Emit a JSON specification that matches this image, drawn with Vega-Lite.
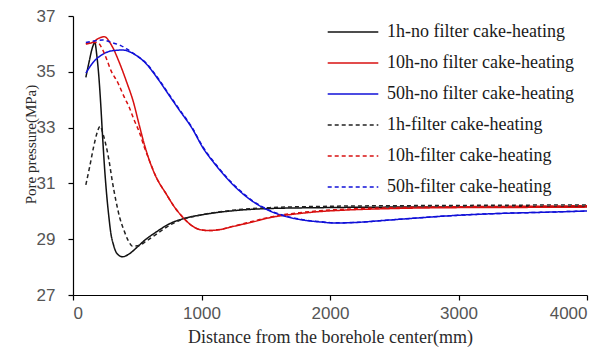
{
  "$schema": "https://vega.github.io/schema/vega-lite/v6.json",
  "width": 514,
  "height": 279,
  "autosize": "none",
  "padding": {"left": 73, "top": 16, "right": 26, "bottom": 53},
  "background": "white",
  "config": {
    "view": {"stroke": null},
    "axis": {
      "grid": false,
      "domainColor": "#000000",
      "domainWidth": 1.2,
      "tickColor": "#000000",
      "tickWidth": 1.2,
      "tickSize": 5,
      "labelFont": "Liberation Sans Narrow, Liberation Sans",
      "labelFontSize": 17,
      "labelColor": "#555555",
      "titleFont": "Liberation Serif",
      "titleFontSize": 18,
      "titleFontWeight": "normal",
      "titleColor": "#2a2a2a"
    },
    "legend": {
      "labelFont": "Liberation Serif",
      "labelFontSize": 18,
      "labelColor": "#1a1a1a",
      "labelLimit": 400
    }
  },
  "data": {
    "values": [
      {"s": "1h-no filter cake-heating", "d": 100, "p": 34.8},
      {"s": "1h-no filter cake-heating", "d": 125, "p": 35.35},
      {"s": "1h-no filter cake-heating", "d": 150, "p": 35.85},
      {"s": "1h-no filter cake-heating", "d": 170, "p": 36.05},
      {"s": "1h-no filter cake-heating", "d": 185, "p": 35.6},
      {"s": "1h-no filter cake-heating", "d": 200, "p": 34.9},
      {"s": "1h-no filter cake-heating", "d": 215, "p": 33.9},
      {"s": "1h-no filter cake-heating", "d": 230, "p": 32.7},
      {"s": "1h-no filter cake-heating", "d": 245, "p": 31.6},
      {"s": "1h-no filter cake-heating", "d": 260, "p": 30.7},
      {"s": "1h-no filter cake-heating", "d": 278, "p": 29.85},
      {"s": "1h-no filter cake-heating", "d": 295, "p": 29.2},
      {"s": "1h-no filter cake-heating", "d": 315, "p": 28.8},
      {"s": "1h-no filter cake-heating", "d": 340, "p": 28.5},
      {"s": "1h-no filter cake-heating", "d": 385, "p": 28.37},
      {"s": "1h-no filter cake-heating", "d": 440, "p": 28.48},
      {"s": "1h-no filter cake-heating", "d": 500, "p": 28.72},
      {"s": "1h-no filter cake-heating", "d": 560, "p": 28.97},
      {"s": "1h-no filter cake-heating", "d": 645, "p": 29.25},
      {"s": "1h-no filter cake-heating", "d": 750, "p": 29.55},
      {"s": "1h-no filter cake-heating", "d": 880, "p": 29.76},
      {"s": "1h-no filter cake-heating", "d": 1010, "p": 29.88},
      {"s": "1h-no filter cake-heating", "d": 1270, "p": 30.03},
      {"s": "1h-no filter cake-heating", "d": 1530, "p": 30.1},
      {"s": "1h-no filter cake-heating", "d": 1920, "p": 30.13},
      {"s": "1h-no filter cake-heating", "d": 2500, "p": 30.15},
      {"s": "1h-no filter cake-heating", "d": 3000, "p": 30.15},
      {"s": "1h-no filter cake-heating", "d": 3500, "p": 30.16},
      {"s": "1h-no filter cake-heating", "d": 4000, "p": 30.17},

      {"s": "10h-no filter cake-heating", "d": 100, "p": 36.0},
      {"s": "10h-no filter cake-heating", "d": 150, "p": 36.05},
      {"s": "10h-no filter cake-heating", "d": 200, "p": 36.2},
      {"s": "10h-no filter cake-heating", "d": 242, "p": 36.26},
      {"s": "10h-no filter cake-heating", "d": 300, "p": 35.95},
      {"s": "10h-no filter cake-heating", "d": 359, "p": 35.35},
      {"s": "10h-no filter cake-heating", "d": 420, "p": 34.6},
      {"s": "10h-no filter cake-heating", "d": 468, "p": 33.95},
      {"s": "10h-no filter cake-heating", "d": 515, "p": 33.1},
      {"s": "10h-no filter cake-heating", "d": 555, "p": 32.4},
      {"s": "10h-no filter cake-heating", "d": 593, "p": 31.84},
      {"s": "10h-no filter cake-heating", "d": 650, "p": 31.2},
      {"s": "10h-no filter cake-heating", "d": 723, "p": 30.64},
      {"s": "10h-no filter cake-heating", "d": 790, "p": 30.15},
      {"s": "10h-no filter cake-heating", "d": 852, "p": 29.8},
      {"s": "10h-no filter cake-heating", "d": 920, "p": 29.5},
      {"s": "10h-no filter cake-heating", "d": 982, "p": 29.35},
      {"s": "10h-no filter cake-heating", "d": 1050, "p": 29.31},
      {"s": "10h-no filter cake-heating", "d": 1150, "p": 29.35},
      {"s": "10h-no filter cake-heating", "d": 1241, "p": 29.45},
      {"s": "10h-no filter cake-heating", "d": 1400, "p": 29.62},
      {"s": "10h-no filter cake-heating", "d": 1530, "p": 29.77},
      {"s": "10h-no filter cake-heating", "d": 1762, "p": 29.92},
      {"s": "10h-no filter cake-heating", "d": 1920, "p": 29.99},
      {"s": "10h-no filter cake-heating", "d": 2150, "p": 30.05},
      {"s": "10h-no filter cake-heating", "d": 2500, "p": 30.1},
      {"s": "10h-no filter cake-heating", "d": 2930, "p": 30.13},
      {"s": "10h-no filter cake-heating", "d": 3500, "p": 30.14},
      {"s": "10h-no filter cake-heating", "d": 4000, "p": 30.15},

      {"s": "50h-no filter cake-heating", "d": 100, "p": 34.95},
      {"s": "50h-no filter cake-heating", "d": 150, "p": 35.3},
      {"s": "50h-no filter cake-heating", "d": 229, "p": 35.62},
      {"s": "50h-no filter cake-heating", "d": 300, "p": 35.75},
      {"s": "50h-no filter cake-heating", "d": 385, "p": 35.78},
      {"s": "50h-no filter cake-heating", "d": 470, "p": 35.65},
      {"s": "50h-no filter cake-heating", "d": 567, "p": 35.3},
      {"s": "50h-no filter cake-heating", "d": 660, "p": 34.75},
      {"s": "50h-no filter cake-heating", "d": 749, "p": 34.15},
      {"s": "50h-no filter cake-heating", "d": 827, "p": 33.63},
      {"s": "50h-no filter cake-heating", "d": 930, "p": 32.95},
      {"s": "50h-no filter cake-heating", "d": 1008, "p": 32.3},
      {"s": "50h-no filter cake-heating", "d": 1112, "p": 31.65},
      {"s": "50h-no filter cake-heating", "d": 1268, "p": 30.85},
      {"s": "50h-no filter cake-heating", "d": 1400, "p": 30.35},
      {"s": "50h-no filter cake-heating", "d": 1528, "p": 30.02},
      {"s": "50h-no filter cake-heating", "d": 1650, "p": 29.82},
      {"s": "50h-no filter cake-heating", "d": 1788, "p": 29.69},
      {"s": "50h-no filter cake-heating", "d": 1918, "p": 29.62},
      {"s": "50h-no filter cake-heating", "d": 2048, "p": 29.58},
      {"s": "50h-no filter cake-heating", "d": 2200, "p": 29.6},
      {"s": "50h-no filter cake-heating", "d": 2412, "p": 29.67},
      {"s": "50h-no filter cake-heating", "d": 2650, "p": 29.75},
      {"s": "50h-no filter cake-heating", "d": 2932, "p": 29.84},
      {"s": "50h-no filter cake-heating", "d": 3300, "p": 29.92},
      {"s": "50h-no filter cake-heating", "d": 3700, "p": 29.97},
      {"s": "50h-no filter cake-heating", "d": 4000, "p": 30.01},

      {"s": "1h-filter cake-heating", "d": 100, "p": 30.95},
      {"s": "1h-filter cake-heating", "d": 130, "p": 31.6},
      {"s": "1h-filter cake-heating", "d": 160, "p": 32.3},
      {"s": "1h-filter cake-heating", "d": 190, "p": 32.85},
      {"s": "1h-filter cake-heating", "d": 211, "p": 33.05},
      {"s": "1h-filter cake-heating", "d": 235, "p": 32.75},
      {"s": "1h-filter cake-heating", "d": 260, "p": 32.3},
      {"s": "1h-filter cake-heating", "d": 281, "p": 31.8},
      {"s": "1h-filter cake-heating", "d": 305, "p": 31.1},
      {"s": "1h-filter cake-heating", "d": 333, "p": 30.4},
      {"s": "1h-filter cake-heating", "d": 365, "p": 29.75},
      {"s": "1h-filter cake-heating", "d": 398, "p": 29.3},
      {"s": "1h-filter cake-heating", "d": 430, "p": 28.95},
      {"s": "1h-filter cake-heating", "d": 463, "p": 28.75},
      {"s": "1h-filter cake-heating", "d": 520, "p": 28.78},
      {"s": "1h-filter cake-heating", "d": 566, "p": 28.92},
      {"s": "1h-filter cake-heating", "d": 630, "p": 29.12},
      {"s": "1h-filter cake-heating", "d": 696, "p": 29.33},
      {"s": "1h-filter cake-heating", "d": 760, "p": 29.52},
      {"s": "1h-filter cake-heating", "d": 827, "p": 29.67},
      {"s": "1h-filter cake-heating", "d": 1000, "p": 29.87},
      {"s": "1h-filter cake-heating", "d": 1270, "p": 30.05},
      {"s": "1h-filter cake-heating", "d": 1530, "p": 30.13},
      {"s": "1h-filter cake-heating", "d": 2000, "p": 30.18},
      {"s": "1h-filter cake-heating", "d": 2500, "p": 30.2},
      {"s": "1h-filter cake-heating", "d": 3000, "p": 30.21},
      {"s": "1h-filter cake-heating", "d": 3500, "p": 30.22},
      {"s": "1h-filter cake-heating", "d": 4000, "p": 30.23},

      {"s": "10h-filter cake-heating", "d": 100, "p": 36.0},
      {"s": "10h-filter cake-heating", "d": 150, "p": 36.05},
      {"s": "10h-filter cake-heating", "d": 190, "p": 36.05},
      {"s": "10h-filter cake-heating", "d": 230, "p": 35.8},
      {"s": "10h-filter cake-heating", "d": 262, "p": 35.45},
      {"s": "10h-filter cake-heating", "d": 294, "p": 35.06},
      {"s": "10h-filter cake-heating", "d": 350, "p": 34.6},
      {"s": "10h-filter cake-heating", "d": 398, "p": 34.1},
      {"s": "10h-filter cake-heating", "d": 440, "p": 33.7},
      {"s": "10h-filter cake-heating", "d": 476, "p": 33.27},
      {"s": "10h-filter cake-heating", "d": 515, "p": 32.85},
      {"s": "10h-filter cake-heating", "d": 555, "p": 32.3},
      {"s": "10h-filter cake-heating", "d": 593, "p": 31.84},
      {"s": "10h-filter cake-heating", "d": 650, "p": 31.2},
      {"s": "10h-filter cake-heating", "d": 723, "p": 30.64},
      {"s": "10h-filter cake-heating", "d": 790, "p": 30.15},
      {"s": "10h-filter cake-heating", "d": 852, "p": 29.8},
      {"s": "10h-filter cake-heating", "d": 920, "p": 29.5},
      {"s": "10h-filter cake-heating", "d": 982, "p": 29.35},
      {"s": "10h-filter cake-heating", "d": 1050, "p": 29.31},
      {"s": "10h-filter cake-heating", "d": 1150, "p": 29.35},
      {"s": "10h-filter cake-heating", "d": 1241, "p": 29.46},
      {"s": "10h-filter cake-heating", "d": 1400, "p": 29.64},
      {"s": "10h-filter cake-heating", "d": 1530, "p": 29.79},
      {"s": "10h-filter cake-heating", "d": 1762, "p": 29.95},
      {"s": "10h-filter cake-heating", "d": 1920, "p": 30.02},
      {"s": "10h-filter cake-heating", "d": 2150, "p": 30.08},
      {"s": "10h-filter cake-heating", "d": 2500, "p": 30.13},
      {"s": "10h-filter cake-heating", "d": 2930, "p": 30.16},
      {"s": "10h-filter cake-heating", "d": 3500, "p": 30.18},
      {"s": "10h-filter cake-heating", "d": 4000, "p": 30.2},

      {"s": "50h-filter cake-heating", "d": 100, "p": 36.05},
      {"s": "50h-filter cake-heating", "d": 160, "p": 36.1},
      {"s": "50h-filter cake-heating", "d": 229, "p": 36.14},
      {"s": "50h-filter cake-heating", "d": 300, "p": 36.05},
      {"s": "50h-filter cake-heating", "d": 372, "p": 35.94},
      {"s": "50h-filter cake-heating", "d": 424, "p": 35.8},
      {"s": "50h-filter cake-heating", "d": 470, "p": 35.66},
      {"s": "50h-filter cake-heating", "d": 567, "p": 35.32},
      {"s": "50h-filter cake-heating", "d": 660, "p": 34.78},
      {"s": "50h-filter cake-heating", "d": 749, "p": 34.18},
      {"s": "50h-filter cake-heating", "d": 827, "p": 33.66},
      {"s": "50h-filter cake-heating", "d": 930, "p": 32.98},
      {"s": "50h-filter cake-heating", "d": 1008, "p": 32.33},
      {"s": "50h-filter cake-heating", "d": 1112, "p": 31.68},
      {"s": "50h-filter cake-heating", "d": 1268, "p": 30.88},
      {"s": "50h-filter cake-heating", "d": 1400, "p": 30.37},
      {"s": "50h-filter cake-heating", "d": 1528, "p": 30.04},
      {"s": "50h-filter cake-heating", "d": 1650, "p": 29.84},
      {"s": "50h-filter cake-heating", "d": 1788, "p": 29.7},
      {"s": "50h-filter cake-heating", "d": 1918, "p": 29.63},
      {"s": "50h-filter cake-heating", "d": 2048, "p": 29.59},
      {"s": "50h-filter cake-heating", "d": 2200, "p": 29.6},
      {"s": "50h-filter cake-heating", "d": 2412, "p": 29.67},
      {"s": "50h-filter cake-heating", "d": 2650, "p": 29.75},
      {"s": "50h-filter cake-heating", "d": 2932, "p": 29.84},
      {"s": "50h-filter cake-heating", "d": 3300, "p": 29.92},
      {"s": "50h-filter cake-heating", "d": 3700, "p": 29.97},
      {"s": "50h-filter cake-heating", "d": 4000, "p": 30.01}
    ]
  },
  "mark": {"type": "line", "interpolate": "monotone", "strokeWidth": 1.5},
  "encoding": {
    "x": {
      "field": "d",
      "type": "quantitative",
      "scale": {"domain": [0, 4000], "nice": false, "zero": false},
      "axis": {
        "values": [0, 1000, 2000, 3000, 4000],
        "format": "d",
        "title": "Distance from the borehole center(mm)",
        "labelPadding": 5,
        "titleAnchor": "middle",
        "titleBaseline": "top",
        "titleY": 33
      }
    },
    "y": {
      "field": "p",
      "type": "quantitative",
      "scale": {"domain": [27, 37], "nice": false, "zero": false},
      "axis": {
        "values": [27, 29, 31, 33, 35, 37],
        "title": "Pore pressure(MPa)",
        "labelPadding": 13,
        "titleFontSize": 15,
        "titleAngle": -90,
        "titleAlign": "center",
        "titleBaseline": "middle",
        "titleX": -43,
        "titleY": 128
      }
    },
    "color": {
      "field": "s",
      "type": "nominal",
      "sort": null,
      "scale": {
        "domain": [
          "1h-no filter cake-heating",
          "10h-no filter cake-heating",
          "50h-no filter cake-heating",
          "1h-filter cake-heating",
          "10h-filter cake-heating",
          "50h-filter cake-heating"
        ],
        "range": ["#111111", "#d81010", "#1010d8", "#222222", "#d81010", "#1010d8"]
      },
      "legend": {
        "title": null,
        "orient": "none",
        "legendX": 263,
        "legendY": -1,
        "padding": 0,
        "symbolType": "M-1.6,0H1.6",
        "symbolSize": 1000,
        "symbolStrokeWidth": 1.5,
        "labelOffset": 17,
        "rowPadding": 5
      }
    },
    "strokeDash": {
      "field": "s",
      "type": "nominal",
      "sort": null,
      "scale": {
        "domain": [
          "1h-no filter cake-heating",
          "10h-no filter cake-heating",
          "50h-no filter cake-heating",
          "1h-filter cake-heating",
          "10h-filter cake-heating",
          "50h-filter cake-heating"
        ],
        "range": [[1, 0], [1, 0], [1, 0], [4, 3], [4, 3], [4, 3]]
      }
    }
  }
}
